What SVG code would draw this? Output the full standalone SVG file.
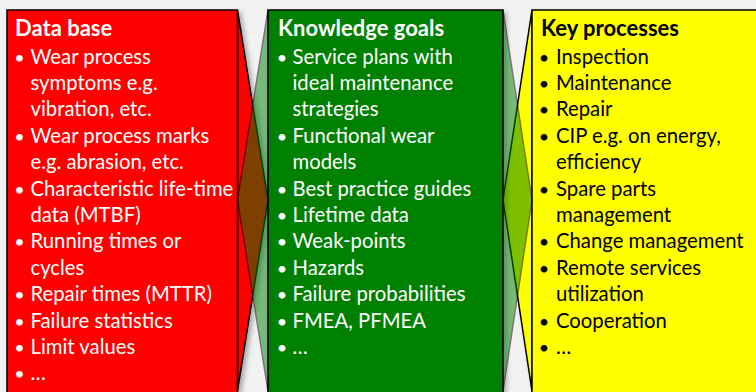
<svg xmlns="http://www.w3.org/2000/svg" width="756" height="392" viewBox="0 0 756 392">
  <style>
    .t { font-family: Lato, "Open Sans", "Liberation Sans", sans-serif; font-size: 20.3px; }
    .h { font-family: Lato, "Open Sans", "Liberation Sans", sans-serif; font-size: 22px; font-weight: bold; }
    .w { fill: #ffffff; }
    .k { fill: #000000; }
    .b { text-anchor: middle; font-size: 18px; }
    .edge { stroke: #000000; stroke-width: 1.5; stroke-linejoin: miter; }
  </style>
  <defs>
    <filter id="shadow" x="-10%" y="-10%" width="130%" height="130%">
      <feDropShadow dx="3" dy="3" stdDeviation="2.5" flood-color="#000000" flood-opacity="0.3"/>
    </filter>
  </defs>

  <rect x="0" y="0" width="756" height="392" fill="#f2f2f2"/>

  <!-- column 1: data base -->
  <g id="data-base">
    <g filter="url(#shadow)">
      <polygon class="edge" points="237.5,10 268,200 237.5,391" fill="#ff0000"/>
      <rect class="edge" x="7" y="10" width="230.5" height="400" fill="#ff0000"/>
    </g>
    <text class="h w" x="15" y="36">Data base</text>
    <g class="t w">
      <text class="b" x="19.5" y="63.5">•</text><text x="30.5" y="63.5">Wear process</text>
      <text x="30.5" y="90">symptoms e.g.</text>
      <text x="30.5" y="116.3">vibration, etc.</text>
      <text class="b" x="19.5" y="142.7">•</text><text x="30.5" y="142.7">Wear process marks</text>
      <text x="30.5" y="169">e.g. abrasion, etc.</text>
      <text class="b" x="19.5" y="195.5">•</text><text x="30.5" y="195.5">Characteristic life-time</text>
      <text x="30.5" y="221.9">data (MTBF)</text>
      <text class="b" x="19.5" y="248.3">•</text><text x="30.5" y="248.3">Running times or</text>
      <text x="30.5" y="274.7">cycles</text>
      <text class="b" x="19.5" y="301">•</text><text x="30.5" y="301">Repair times (MTTR)</text>
      <text class="b" x="19.5" y="327.5">•</text><text x="30.5" y="327.5">Failure statistics</text>
      <text class="b" x="19.5" y="353.9">•</text><text x="30.5" y="353.9">Limit values</text>
      <text class="b" x="19.5" y="380.3">•</text><text x="30.5" y="380.3">…</text>
    </g>
  </g>

  <!-- column 3: key processes -->
  <g id="key-processes">
    <g filter="url(#shadow)">
      <polygon class="edge" points="532,10 503,200 532,391" fill="#ffff00"/>
      <rect class="edge" x="532" y="10" width="240" height="400" fill="#ffff00"/>
    </g>
    <text class="h k" x="541" y="36">Key processes</text>
    <g class="t k">
      <text class="b" x="544" y="63.5">•</text><text x="556" y="63.5">Inspection</text>
      <text class="b" x="544" y="90">•</text><text x="556" y="90">Maintenance</text>
      <text class="b" x="544" y="116.3">•</text><text x="556" y="116.3">Repair</text>
      <text class="b" x="544" y="142.7">•</text><text x="556" y="142.7">CIP e.g. on energy,</text>
      <text x="556" y="169">efficiency</text>
      <text class="b" x="544" y="195.5">•</text><text x="556" y="195.5">Spare parts</text>
      <text x="556" y="221.9">management</text>
      <text class="b" x="544" y="248.3">•</text><text x="556" y="248.3">Change management</text>
      <text class="b" x="544" y="274.7">•</text><text x="556" y="274.7">Remote services</text>
      <text x="556" y="301">utilization</text>
      <text class="b" x="544" y="327.5">•</text><text x="556" y="327.5">Cooperation</text>
      <text class="b" x="544" y="353.9">•</text><text x="556" y="353.9">…</text>
    </g>
  </g>

  <!-- column 2: knowledge goals, with translucent wings over the neighbours -->
  <g id="knowledge-goals">
    <rect class="edge" x="268" y="10" width="235" height="400" fill="#008000" filter="url(#shadow)"/>
    <g opacity="0.5">
      <polygon class="edge" points="268,10 237.5,200 268,391" fill="#008000"/>
      <polygon class="edge" points="503,10 532,200 503,391" fill="#008000"/>
    </g>
    <text class="h w" x="278" y="36">Knowledge goals</text>
    <g class="t w">
      <text class="b" x="282" y="63.5">•</text><text x="292.5" y="63.5">Service plans with</text>
      <text x="292.5" y="90">ideal maintenance</text>
      <text x="292.5" y="116.3">strategies</text>
      <text class="b" x="282" y="142.7">•</text><text x="292.5" y="142.7">Functional wear</text>
      <text x="292.5" y="169">models</text>
      <text class="b" x="282" y="195.5">•</text><text x="292.5" y="195.5">Best practice guides</text>
      <text class="b" x="282" y="221.9">•</text><text x="292.5" y="221.9">Lifetime data</text>
      <text class="b" x="282" y="248.3">•</text><text x="292.5" y="248.3">Weak-points</text>
      <text class="b" x="282" y="274.7">•</text><text x="292.5" y="274.7">Hazards</text>
      <text class="b" x="282" y="301">•</text><text x="292.5" y="301">Failure probabilities</text>
      <text class="b" x="282" y="327.5">•</text><text x="292.5" y="327.5">FMEA, PFMEA</text>
      <text class="b" x="282" y="353.9">•</text><text x="292.5" y="353.9">…</text>
    </g>
  </g>
</svg>
